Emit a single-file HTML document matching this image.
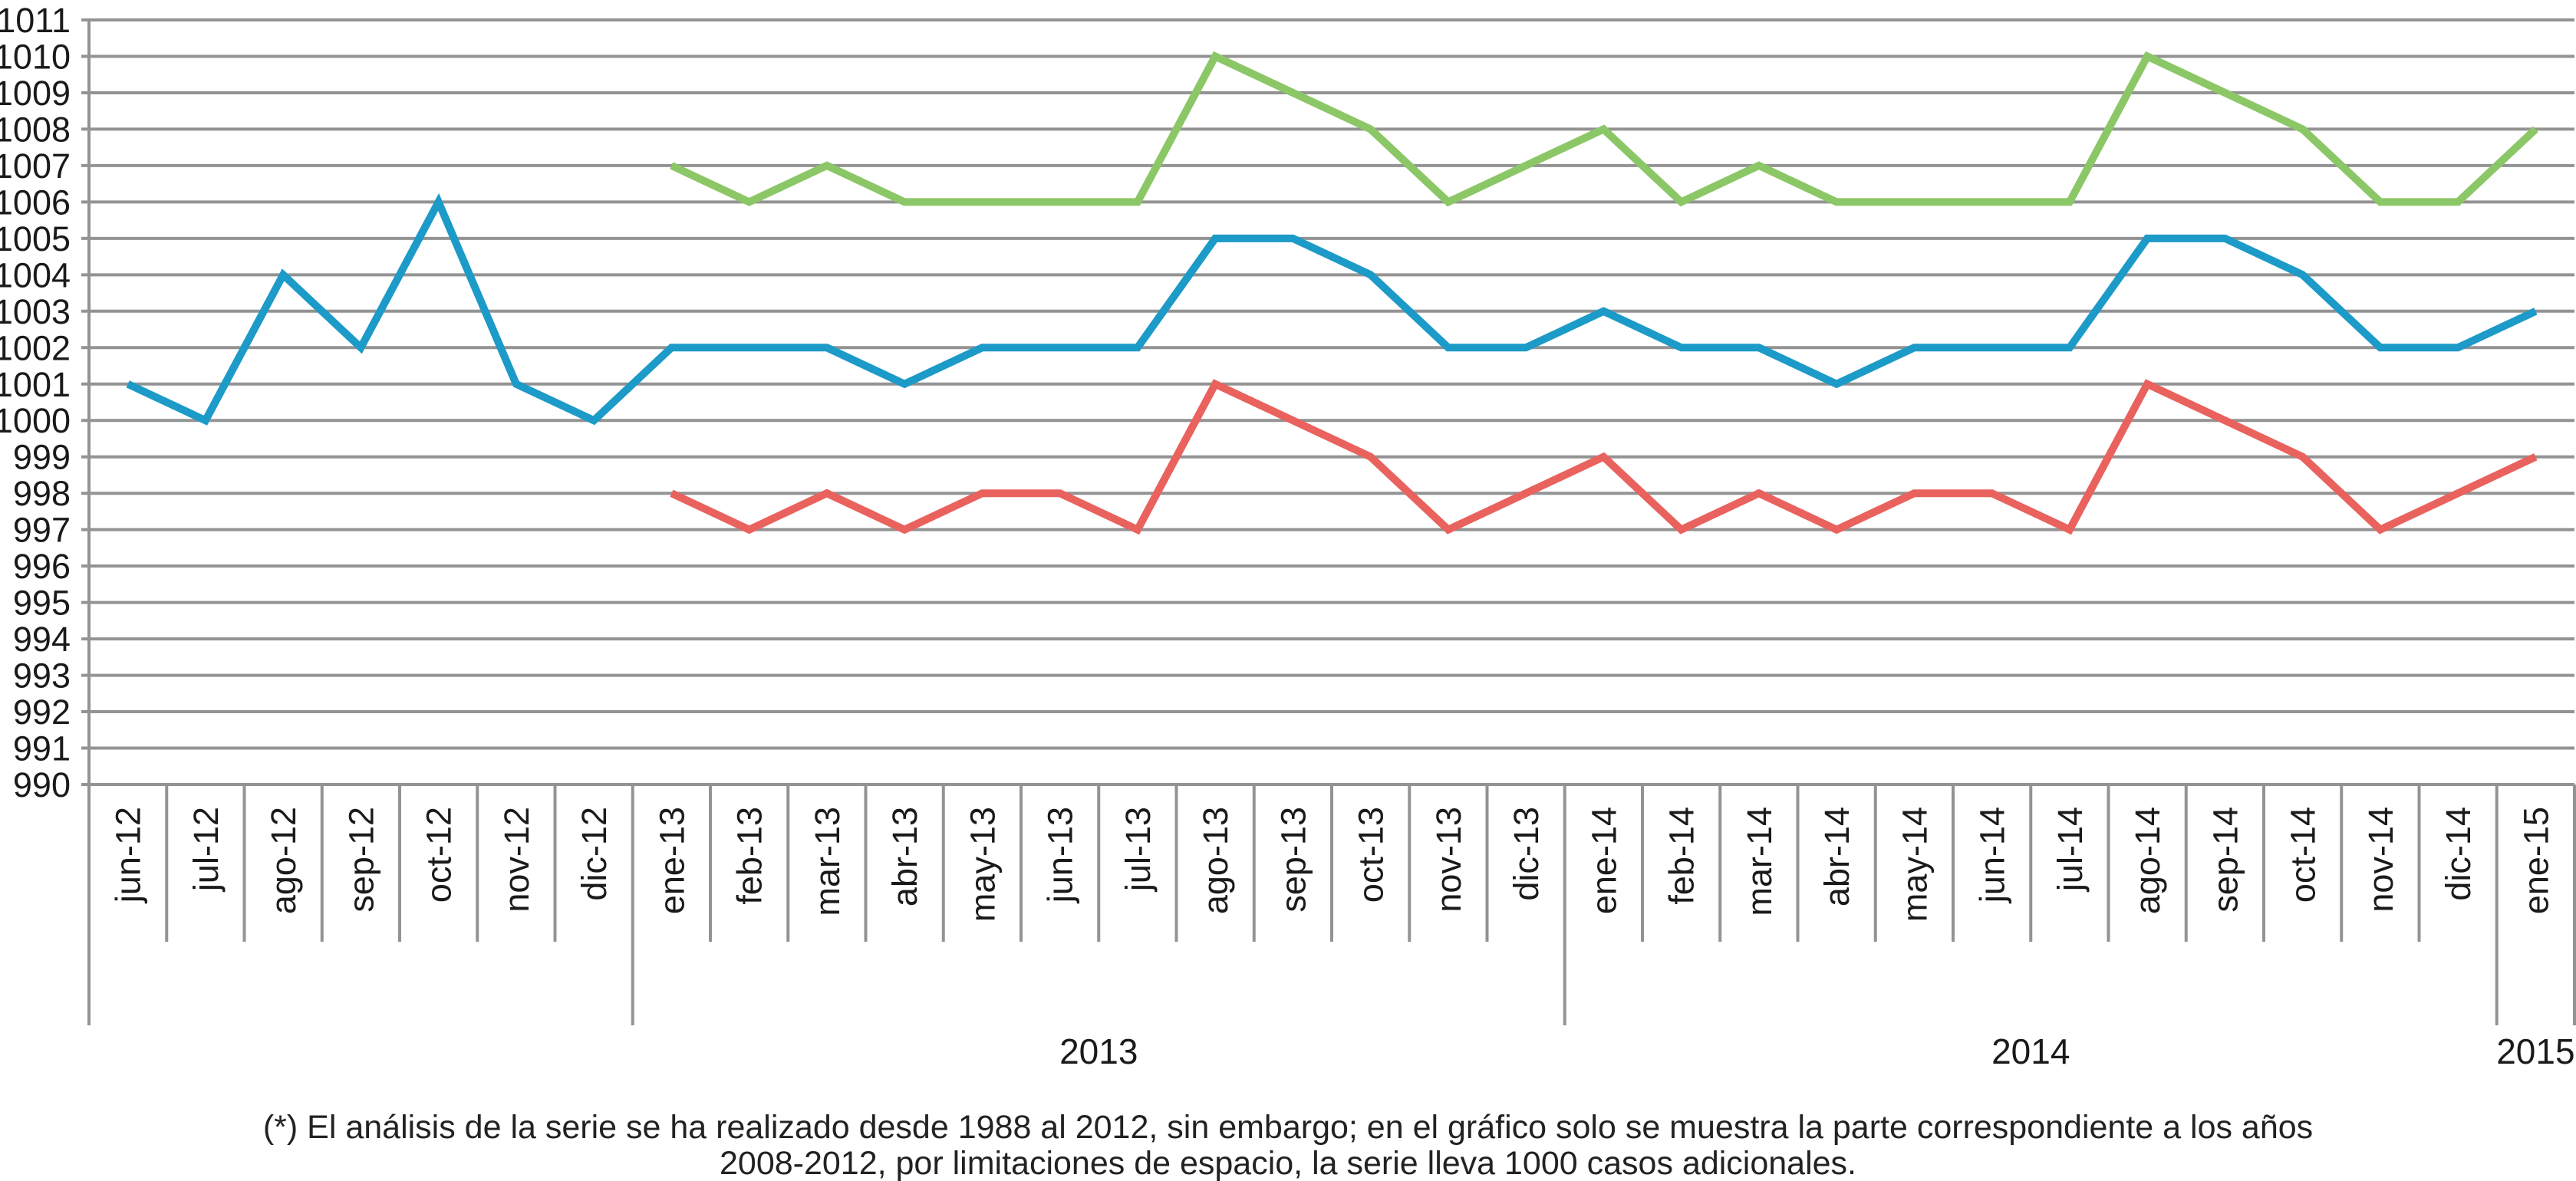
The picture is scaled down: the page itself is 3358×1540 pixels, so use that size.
<!DOCTYPE html>
<html><head><meta charset="utf-8"><style>
html,body{margin:0;padding:0;background:#fff;}
svg{display:block;font-family:"Liberation Sans",Arial,sans-serif;}
</style></head><body>
<svg id="chart" width="3358" height="1540" viewBox="0 0 3358 1540" xmlns="http://www.w3.org/2000/svg">
<g id="grid"></g>
<g id="yl"></g>
<g id="xax"></g>
<g id="series"></g>
<text x="1679" y="1484" text-anchor="middle" font-size="43" fill="#222">(*) El análisis de la serie se ha realizado desde 1988 al 2012, sin embargo; en el gráfico solo se muestra la parte correspondiente a los años</text>
<text x="1679" y="1531" text-anchor="middle" font-size="43" fill="#222">2008-2012, por limitaciones de espacio, la serie lleva 1000 casos adicionales.</text>
</svg>
<script>
const categories = ["jun-12","jul-12","ago-12","sep-12","oct-12","nov-12","dic-12","ene-13","feb-13","mar-13","abr-13","may-13","jun-13","jul-13","ago-13","sep-13","oct-13","nov-13","dic-13","ene-14","feb-14","mar-14","abr-14","may-14","jun-14","jul-14","ago-14","sep-14","oct-14","nov-14","dic-14","ene-15"];
const blueValues = [1001,1000,1004,1002,1006,1001,1000,1002,1002,1002,1001,1002,1002,1002,1005,1005,1004,1002,1002,1003,1002,1002,1001,1002,1002,1002,1005,1005,1004,1002,1002,1003];
const greenValues = [null,null,null,null,null,null,null,1007,1006,1007,1006,1006,1006,1006,1010,1009,1008,1006,1007,1008,1006,1007,1006,1006,1006,1006,1010,1009,1008,1006,1006,1008];
const redValues = [null,null,null,null,null,null,null,998,997,998,997,998,998,997,1001,1000,999,997,998,999,997,998,997,998,998,997,1001,1000,999,997,998,999];
const yTicks = [990,991,992,993,994,995,996,997,998,999,1000,1001,1002,1003,1004,1005,1006,1007,1008,1009,1010,1011];
const yearLabels = ["2013","2014","2015"];
const yearStart = [7,19,31];
const yearEnd = [19,31,32];

const NS="http://www.w3.org/2000/svg";
const X0=116, X1=3356, Y0=1023, Y1=26, YMIN=990, YMAX=1011;
const bw=(X1-X0)/categories.length;
const xEdge=i=>X0+i*bw;
const xPos=i=>X0+(i+0.5)*bw;
const yPos=v=>Y0-(v-YMIN)/(YMAX-YMIN)*(Y0-Y1);
function mk(tag,attrs,parent){const e=document.createElementNS(NS,tag);for(const k in attrs)e.setAttribute(k,attrs[k]);parent.appendChild(e);return e;}
const grid=document.getElementById('grid'), yl=document.getElementById('yl'), xax=document.getElementById('xax'), ser=document.getElementById('series');
yTicks.forEach(v=>{
  const l=mk('line',{x1:106,x2:X1,y1:yPos(v),y2:yPos(v),stroke:'#939393','stroke-width':4},grid);
  
  
  const t=mk('text',{x:92,y:yPos(v)+16,'text-anchor':'end','font-size':45,fill:'#1a1a1a'},yl);
  t.textContent=v;
  
  
});
const ax=mk('line',{x1:X0,x2:X0,y1:Y1,y2:1337,stroke:'#939393','stroke-width':4},xax);


for(let i=1;i<=categories.length;i++){
  const long=(yearStart.indexOf(i)>=0)||i===categories.length;
  const tk=mk('line',{x1:xEdge(i),x2:xEdge(i),y1:Y0,y2:long?1337:1228,stroke:'#939393','stroke-width':4},xax);
  
  
}
categories.forEach((c,i)=>{
  const x=xPos(i)+16, y=1052;
  const t=mk('text',{x:x,y:y,'text-anchor':'end','font-size':45,fill:'#1a1a1a',transform:`rotate(-90 ${x} ${y})`},xax);
  t.textContent=c;
  
  
});
yearLabels.forEach((yr,k)=>{
  const cx=(xEdge(yearStart[k])+xEdge(yearEnd[k]))/2;
  const t=mk('text',{x:cx,y:1387,'text-anchor':'middle','font-size':46,fill:'#1a1a1a'},xax);
  t.textContent=yr;
  
  
});
function drawSeries(vals,color,name){
  const pts=[];vals.forEach((v,i)=>{if(v!==null)pts.push(xPos(i)+','+yPos(v));});
  const p=mk('polyline',{points:pts.join(' '),fill:'none',stroke:color,'stroke-width':10,'stroke-linejoin':'miter'},ser);
  
  
}
drawSeries(greenValues,'#8bc766','series-green');
drawSeries(blueValues,'#1c9ac8','series-blue');
drawSeries(redValues,'#e9625d','series-red');
</script>
</body></html>
